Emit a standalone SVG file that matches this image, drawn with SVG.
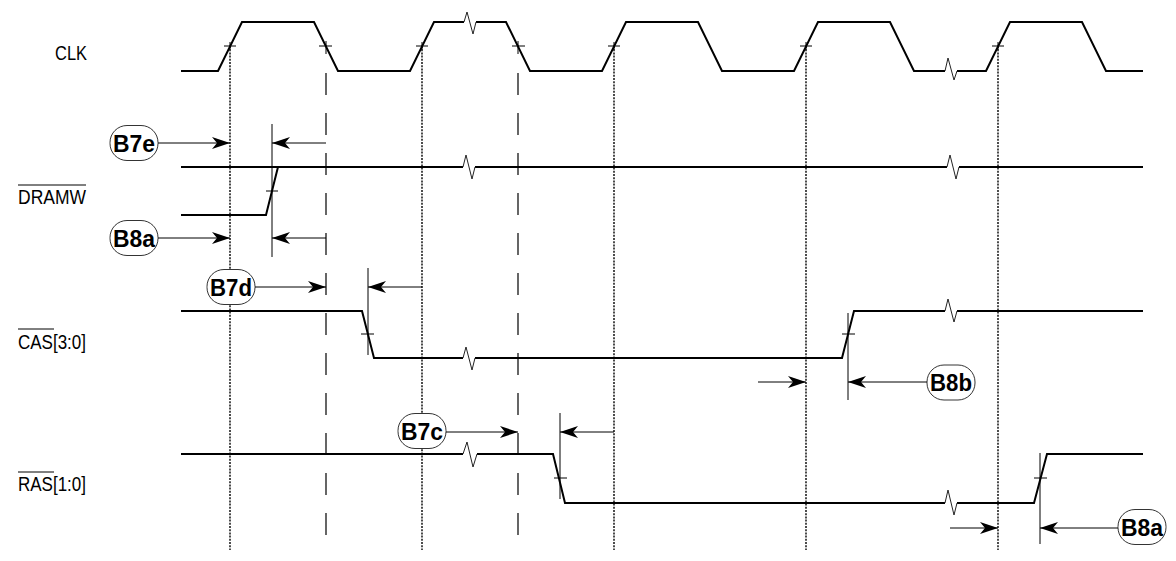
<svg xmlns="http://www.w3.org/2000/svg" width="1176" height="561" viewBox="0 0 1176 561">
<style>
.wave{fill:none;stroke:#000;stroke-width:2;stroke-linejoin:miter}
.zig{fill:none;stroke:#222;stroke-width:1}
.tick{stroke:#000;stroke-width:1}
.dot{stroke:#000;stroke-width:1.4;stroke-dasharray:2 1.2}
.dash{stroke:#000;stroke-width:1.2;stroke-dasharray:22 18}
.ref{stroke:#000;stroke-width:1}
.arr{stroke:#000;stroke-width:1;fill:none;marker-end:url(#ah)}
.oval{fill:#fff;stroke:#000;stroke-width:0.8}
.lbl{font-family:"Liberation Sans",Arial,sans-serif;font-weight:bold;font-size:24px;text-anchor:middle}
.sig{font-family:"Liberation Sans",Arial,sans-serif;font-size:20px}
</style>
<defs>
<marker id="ah" viewBox="0 0 18 12" refX="18" refY="6" markerWidth="18" markerHeight="12" markerUnits="userSpaceOnUse" orient="auto">
<path d="M18,6 L0,0 L5,6 L0,12 Z" fill="#000"/>
</marker>
</defs>
<g id="guides">
<line class="dot" x1="230" y1="46" x2="230" y2="550"/>
<line class="dot" x1="422" y1="46" x2="422" y2="550"/>
<line class="dot" x1="614" y1="46" x2="614" y2="550"/>
<line class="dot" x1="806" y1="46" x2="806" y2="550"/>
<line class="dot" x1="998" y1="46" x2="998" y2="550"/>
<line class="dash" x1="326" y1="73" x2="326" y2="550"/>
<line class="dash" x1="518" y1="73" x2="518" y2="550"/>
<line class="ref" x1="272" y1="124" x2="272" y2="257"/>
<line class="ref" x1="368" y1="268" x2="368" y2="355"/>
<line class="ref" x1="848" y1="313" x2="848" y2="400"/>
<line class="ref" x1="560" y1="413" x2="560" y2="499"/>
<line class="ref" x1="1040" y1="453" x2="1040" y2="544"/>
</g>
<g id="waveforms">
<path id="clk" class="wave" d="M181,71 L218,71 L242,22 L314,22 L338,71 L410,71 L434,22 L464,22 M476,22 L506,22 L530,71 L602,71 L626,22 L698,22 L722,71 L794,71 L818,22 L890,22 L914,71 L945,71 M957,71 L986,71 L1010,22 L1082,22 L1106,71 L1143,71"/>
<path class="zig" d="M464,22 L467,12 L473,34 L476,22 M945,71 L948,58 L954,80 L957,71"/>
<path id="dramw" class="wave" d="M181,167 L463,167 M475,167 L947,167 M959,167 L1143,167 M181,215 L266,215 L278,167"/>
<path class="zig" d="M463,167 L466,155 L472,179 L475,167 M947,167 L950,155 L956,179 L959,167"/>
<path id="cas" class="wave" d="M181,311 L362,311 L374,358 L463,358 M475,358 L842,358 L854,311 L945,311 M957,311 L1143,311"/>
<path class="zig" d="M463,358 L466,347 L472,370 L475,358 M945,311 L948,299 L954,322 L957,311"/>
<path id="ras" class="wave" d="M181,454 L463,454 M477,454 L553,454 L565,503 L945,503 M957,503 L1034,503 L1047,454 L1143,454"/>
<path class="zig" d="M463,454 L467,442 L473,467 L477,454 M945,503 L948,490 L954,515 L957,503"/>
<path class="tick" d="M224,46 H236 M230,42 V50 M319,46 H332 M326,41 V54 M416,46 H428 M422,42 V50 M512,46 H525 M518,41 V54 M608,46 H620 M614,42 V50 M800,46 H812 M806,42 V50 M992,46 H1004 M998,42 V50 M266,191 H278 M361,334 H374 M842,334 H855 M554,478 H567 M1034,478 H1047"/>
</g>
<g id="connectors">
<line class="arr" x1="158" y1="143" x2="230" y2="143"/>
<line class="arr" x1="326" y1="143" x2="272" y2="143"/>
<line class="arr" x1="158" y1="238" x2="230" y2="238"/>
<line class="arr" x1="326" y1="238" x2="272" y2="238"/>
<line class="arr" x1="255" y1="287" x2="326" y2="287"/>
<line class="arr" x1="422" y1="287" x2="368" y2="287"/>
<line class="arr" x1="758" y1="382" x2="806" y2="382"/>
<line class="arr" x1="927" y1="382" x2="848" y2="382"/>
<line class="arr" x1="446" y1="432" x2="518" y2="432"/>
<line class="arr" x1="614" y1="432" x2="560" y2="432"/>
<line class="arr" x1="950" y1="528" x2="998" y2="528"/>
<line class="arr" x1="1118" y1="528" x2="1040" y2="528"/>
</g>
<g id="sig-clk"><text class="sig" x="55" y="60" textLength="32" lengthAdjust="spacingAndGlyphs">CLK</text></g>
<g id="sig-dramw"><text class="sig" x="18" y="204" textLength="68" lengthAdjust="spacingAndGlyphs">DRAMW</text><line class="ref" x1="18" y1="185" x2="86" y2="185" stroke-width="1.5"/></g>
<g id="sig-cas"><text class="sig" x="18" y="349" textLength="68" lengthAdjust="spacingAndGlyphs">CAS[3:0]</text><line class="ref" x1="18" y1="329" x2="54" y2="329" stroke-width="1.5"/></g>
<g id="sig-ras"><text class="sig" x="18" y="491" textLength="68" lengthAdjust="spacingAndGlyphs">RAS[1:0]</text><line class="ref" x1="18" y1="472" x2="54" y2="472" stroke-width="1.5"/></g>
<g id="B7e"><rect class="oval" x="110" y="125.5" width="48" height="35" rx="17"/><text class="lbl" x="134" y="151.5" textLength="42" lengthAdjust="spacingAndGlyphs">B7e</text></g>
<g id="B8a-1"><rect class="oval" x="110" y="220.5" width="48" height="35" rx="17"/><text class="lbl" x="134" y="246.5" textLength="42" lengthAdjust="spacingAndGlyphs">B8a</text></g>
<g id="B7d"><rect class="oval" x="207" y="269.5" width="48" height="35" rx="17"/><text class="lbl" x="231" y="295.5" textLength="42" lengthAdjust="spacingAndGlyphs">B7d</text></g>
<g id="B8b"><rect class="oval" x="927" y="365" width="48" height="35" rx="17"/><text class="lbl" x="951" y="391" textLength="42" lengthAdjust="spacingAndGlyphs">B8b</text></g>
<g id="B7c"><rect class="oval" x="398" y="413.5" width="48" height="35" rx="17"/><text class="lbl" x="422" y="439.5" textLength="42" lengthAdjust="spacingAndGlyphs">B7c</text></g>
<g id="B8a-2"><rect class="oval" x="1118" y="509.5" width="48" height="35" rx="17"/><text class="lbl" x="1142" y="535.5" textLength="42" lengthAdjust="spacingAndGlyphs">B8a</text></g>
</svg>
